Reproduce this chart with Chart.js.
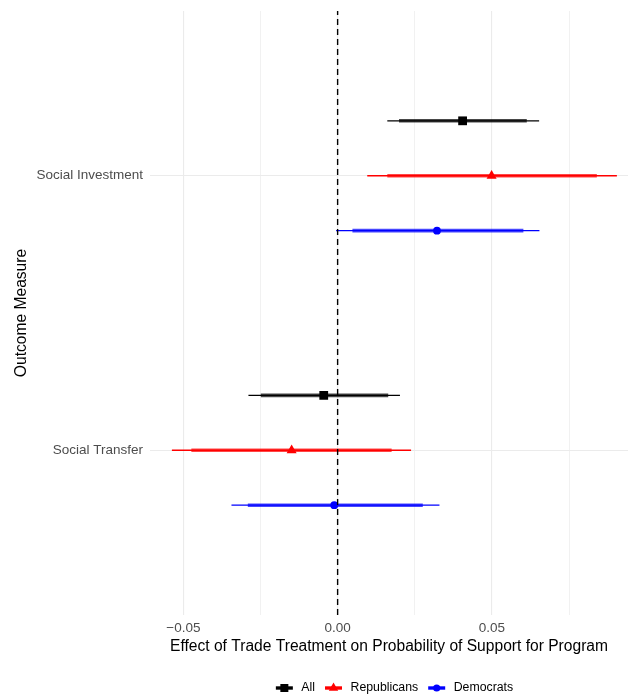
<!DOCTYPE html>
<html>
<head>
<meta charset="utf-8">
<script src="https://cdn.jsdelivr.net/npm/chart.js@4.4.1/dist/chart.umd.min.js"></script>
<style>
  html, body { margin: 0; padding: 0; background: #ffffff; }
  #wrap { width: 630px; height: 696px; position: relative; }
</style>
</head>
<body>
<div id="wrap"><canvas id="c" width="630" height="696"></canvas></div>
<script>
// ---- data ----
const categories = ['Social Transfer', 'Social Investment'];   // y = 1, 2
const seriesNames = ['All', 'Republicans', 'Democrats'];
const seriesColors = ['#000000', '#FF0000', '#0000FF'];
const seriesShapes = ['rect', 'triangle', 'circle'];
const seriesOffsets = [0.2, 0, -0.2];

// point estimates per category [Social Transfer, Social Investment]
const estAll = [-0.0045, 0.0405];
const estRep = [-0.0149, 0.0499];
const estDem = [-0.0011, 0.0322];
// outer (thin) intervals
const loOuterAll = [-0.0289, 0.0161];
const hiOuterAll = [0.0202, 0.0653];
const loOuterRep = [-0.0537, 0.0096];
const hiOuterRep = [0.0238, 0.0905];
const loOuterDem = [-0.0344, -0.0005];
const hiOuterDem = [0.0330, 0.0654];
// inner (thick) intervals
const loInnerAll = [-0.0249, 0.0199];
const hiInnerAll = [0.0164, 0.0613];
const loInnerRep = [-0.0474, 0.0161];
const hiInnerRep = [0.0175, 0.0840];
const loInnerDem = [-0.0291, 0.0048];
const hiInnerDem = [0.0276, 0.0602];

const xTicks = [-0.05, -0.025, 0, 0.025, 0.05, 0.075];
const xTickLabels = {'-0.05': '\u22120.05', '0': '0.00', '0.05': '0.05'};
const yTicks = [1, 2];
const refLine = 0;

const est = [estAll, estRep, estDem];
const loOuter = [loOuterAll, loOuterRep, loOuterDem];
const hiOuter = [hiOuterAll, hiOuterRep, hiOuterDem];
const loInner = [loInnerAll, loInnerRep, loInnerDem];
const hiInner = [hiInnerAll, hiInnerRep, hiInnerDem];

function rgba(hex, a) {
  const n = parseInt(hex.slice(1), 16);
  return `rgba(${(n >> 16) & 255},${(n >> 8) & 255},${n & 255},${a})`;
}

const FONT = '"Liberation Sans", Arial, Helvetica, sans-serif';

// ---- datasets ----
const datasets = [];
// dashed reference line (on top)
datasets.push({
  type: 'line', label: '_ref',
  data: [{x: refLine, y: 0.4}, {x: refLine, y: 2.6}],
  borderColor: '#000000', borderWidth: 1.4, borderDash: [6, 4],
  pointRadius: 0, showLine: true, fill: false
});
// points
for (let s = 0; s < 3; s++) {
  datasets.push({
    type: 'scatter', label: seriesNames[s],
    data: categories.map((c, i) => ({x: est[s][i], y: i + 1 + seriesOffsets[s]})),
    pointStyle: seriesShapes[s],
    pointRadius: s === 0 ? 6.2 : (s === 1 ? 5.8 : 3.9),
    pointBackgroundColor: seriesColors[s],
    pointBorderColor: seriesColors[s],
    pointBorderWidth: 0,
    pointHoverRadius: 0
  });
}
// thick inner intervals
for (let s = 0; s < 3; s++) {
  for (let i = 0; i < categories.length; i++) {
    const y = i + 1 + seriesOffsets[s];
    datasets.push({
      type: 'line', label: '_inner',
      data: [{x: loInner[s][i], y}, {x: hiInner[s][i], y}],
      borderColor: rgba(seriesColors[s], 0.72), borderWidth: 3.6,
      pointRadius: 0, showLine: true, fill: false, borderCapStyle: 'butt'
    });
  }
}
// thin outer intervals
for (let s = 0; s < 3; s++) {
  for (let i = 0; i < categories.length; i++) {
    const y = i + 1 + seriesOffsets[s];
    datasets.push({
      type: 'line', label: '_outer',
      data: [{x: loOuter[s][i], y}, {x: hiOuter[s][i], y}],
      borderColor: seriesColors[s], borderWidth: 1.3,
      pointRadius: 0, showLine: true, fill: false, borderCapStyle: 'butt'
    });
  }
}

// ---- custom legend (drawn with canvas text) ----
const legendPlugin = {
  id: 'ggLegend',
  afterDraw(chart) {
    const ctx = chart.ctx;
    ctx.save();
    ctx.font = '12.3px ' + FONT;
    ctx.textBaseline = 'middle';
    ctx.fillStyle = '#000000';
    const glyphW = 17, gapText = 8.5, gapItem = 10;
    let total = 0;
    const widths = seriesNames.map(n => ctx.measureText(n).width);
    widths.forEach((w, i) => { total += glyphW + gapText + w + (i < widths.length - 1 ? gapItem : 0); });
    let x = 394.5 - total / 2;
    const y = 688;
    for (let s = 0; s < seriesNames.length; s++) {
      const col = seriesColors[s];
      ctx.strokeStyle = col;
      ctx.lineWidth = 3.4;
      ctx.beginPath();
      ctx.moveTo(x, y); ctx.lineTo(x + glyphW, y); ctx.stroke();
      ctx.fillStyle = col;
      const cx = x + glyphW / 2;
      ctx.beginPath();
      if (seriesShapes[s] === 'rect') {
        ctx.rect(cx - 4, y - 4, 8, 8);
      } else if (seriesShapes[s] === 'triangle') {
        const r = 5.4;
        ctx.moveTo(cx, y - r);
        ctx.lineTo(cx + r * 0.866, y + r * 0.5);
        ctx.lineTo(cx - r * 0.866, y + r * 0.5);
        ctx.closePath();
      } else {
        ctx.arc(cx, y, 3.6, 0, Math.PI * 2);
      }
      ctx.fill();
      x += glyphW + gapText;
      ctx.fillStyle = '#000000';
      ctx.fillText(seriesNames[s], x, y);
      x += widths[s] + gapItem;
    }
    ctx.restore();
  }
};

Chart.defaults.font.family = FONT;
Chart.defaults.animation = false;

new Chart(document.getElementById('c'), {
  type: 'scatter',
  data: { datasets },
  options: {
    responsive: false,
    animation: false,
    layout: { autoPadding: false, padding: { top: 11, right: 2, bottom: 30, left: 0 } },
    plugins: {
      legend: { display: false },
      tooltip: { enabled: false }
    },
    scales: {
      x: {
        type: 'linear',
        min: -0.0608, max: 0.0941,
        afterBuildTicks(scale) { scale.ticks = xTicks.map(v => ({value: v})); },
        afterFit(scale) {
          scale.height = 51;
          scale.paddingLeft = 0; scale.paddingRight = 0;
          scale.paddingTop = 0; scale.paddingBottom = 0;
        },
        border: { display: false },
        grid: {
          color: '#EBEBEB',
          lineWidth: ctx => (Math.abs(ctx.tick.value * 40) % 2 > 0.5 ? 0.7 : 1.1),
          drawTicks: false
        },
        ticks: {
          padding: 5,
          color: '#4D4D4D',
          font: { size: 13.5 },
          maxRotation: 0,
          autoSkip: false,
          callback: v => {
            const k = String(Math.round(v * 1000) / 1000);
            return xTickLabels[k] !== undefined ? xTickLabels[k] : '';
          }
        },
        title: {
          display: true,
          text: 'Effect of Trade Treatment on Probability of Support for Program',
          color: '#000000',
          font: { size: 15.6 },
          padding: { top: 0, bottom: 10 }
        }
      },
      y: {
        type: 'linear',
        min: 0.4, max: 2.6,
        afterBuildTicks(scale) { scale.ticks = yTicks.map(v => ({value: v})); },
        afterFit(scale) {
          scale.width = 150;
          scale.paddingLeft = 0; scale.paddingRight = 0;
          scale.paddingTop = 0; scale.paddingBottom = 0;
        },
        border: { display: false },
        grid: { color: '#EBEBEB', lineWidth: 1.1, drawTicks: false },
        ticks: {
          padding: 7,
          color: '#4D4D4D',
          font: { size: 13.5 },
          autoSkip: false,
          callback: v => categories[Math.round(v) - 1] || ''
        },
        title: {
          display: true,
          text: 'Outcome Measure',
          color: '#000000',
          font: { size: 15.6 },
          padding: { top: 12, bottom: 0 }
        }
      }
    }
  },
  plugins: [legendPlugin]
});
</script>
</body>
</html>
